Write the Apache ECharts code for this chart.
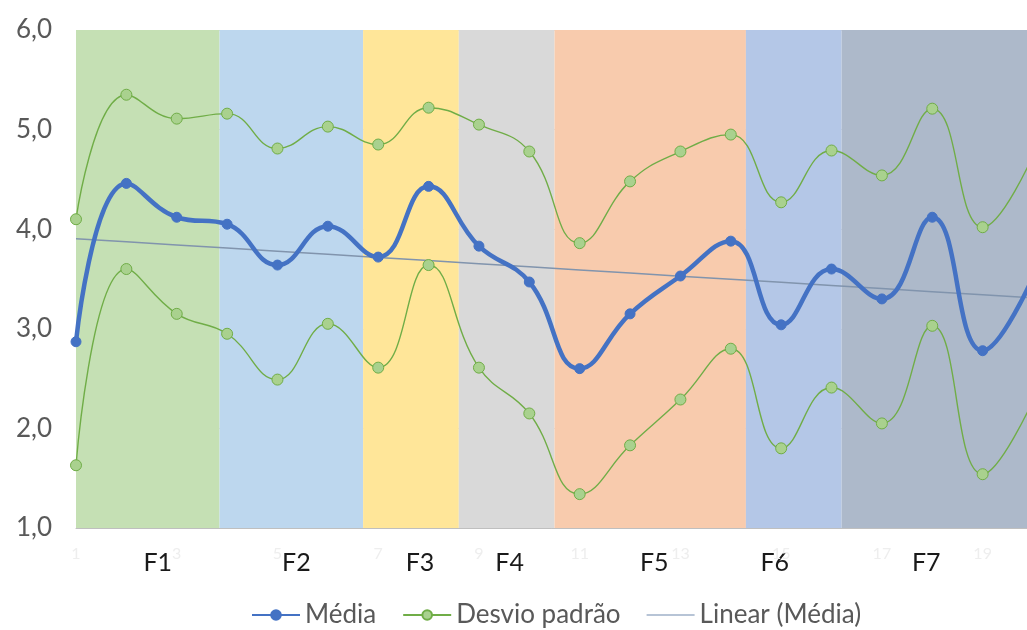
<!DOCTYPE html>
<html>
<head>
<meta charset="utf-8">
<script src="https://cdn.jsdelivr.net/npm/echarts@6/dist/echarts.min.js"></script>
<style>
  html, body { margin: 0; padding: 0; background: #ffffff; }
  #chart { width: 1027px; height: 630px; }
</style>
</head>
<body>
<div id="chart"></div>
<script>
// Periods 1..20
const periodos = ['1','2','3','4','5','6','7','8','9','10','11','12','13','14','15','16','17','18','19','20'];

// Mean per period
const media = [2.87, 4.46, 4.12, 4.05, 3.64, 4.03, 3.72, 4.43, 3.83, 3.47,
               2.60, 3.15, 3.53, 3.88, 3.04, 3.60, 3.30, 4.12, 2.78, 3.52];

// Mean + standard deviation
const desvioSuperior = [4.10, 5.35, 5.11, 5.16, 4.81, 5.03, 4.85, 5.22, 5.05, 4.78,
                        3.86, 4.48, 4.78, 4.95, 4.27, 4.79, 4.54, 5.21, 4.02, 4.74];

// Mean - standard deviation
const desvioInferior = [1.63, 3.60, 3.15, 2.95, 2.49, 3.05, 2.61, 3.64, 2.61, 2.15,
                        1.34, 1.83, 2.29, 2.80, 1.80, 2.41, 2.05, 3.03, 1.54, 2.28];

// Phases and how many periods each one covers
const fases = ['F1', 'F2', 'F3', 'F4', 'F5', 'F6', 'F7'];
const periodosPorFase = [3, 3, 2, 2, 4, 2, 4];

// Y axis ticks
const yTicks = [1, 2, 3, 4, 5, 6];

// Styling
const faseCores = ['#c5e0b4', '#bdd7ee', '#ffe699', '#d9d9d9', '#f8cbad', '#b4c7e7', '#adb9ca'];
const faseRotuloDesvio = [10, 5, 9, 3, 4, -19, -11];
const FONT = 'Lato, "Open Sans", sans-serif';

// Least-squares trend of the mean
function tendenciaLinear(vals) {
  const n = vals.length;
  let sx = 0, sy = 0, sxy = 0, sxx = 0;
  vals.forEach((v, i) => { sx += i; sy += v; sxy += i * v; sxx += i * i; });
  const b = (n * sxy - sx * sy) / (n * sxx - sx * sx);
  const a = (sy - b * sx) / n;
  return vals.map((_, i) => +(a + b * i).toFixed(4));
}
const tendencia = tendenciaLinear(media);

// Phase bands as [start, end, index] on a period-slot scale
const faseDados = [];
let acc = 0;
periodosPorFase.forEach((w, i) => { faseDados.push([acc, acc + w, i]); acc += w; });
const totalSlots = acc;

const chart = echarts.init(document.getElementById('chart'), null, { renderer: 'canvas' });

const option = {
  animation: false,
  backgroundColor: '#ffffff',
  textStyle: { fontFamily: FONT },
  // plot runs a little past the right edge of the canvas
  grid: { left: 76, top: 30, width: 957, height: 498, containLabel: false, outerBoundsMode: 'none' },
  xAxis: [
    {
      type: 'category',
      data: periodos,
      boundaryGap: false,
      axisLine: { show: true, lineStyle: { color: '#bfbfbf', width: 1 } },
      axisTick: { show: false },
      axisLabel: { interval: 1, color: '#eeeeee', fontSize: 16, margin: 18, fontFamily: FONT },
      splitLine: { show: false },
      z: 5
    },
    {
      type: 'value',
      min: 0,
      max: totalSlots,
      show: false
    }
  ],
  yAxis: {
    type: 'value',
    min: yTicks[0],
    max: yTicks[yTicks.length - 1],
    interval: 1,
    axisLine: { show: false },
    axisTick: { show: false },
    axisLabel: {
      color: '#595959',
      fontSize: 26,
      margin: 24,
      fontFamily: FONT,
      formatter: v => v.toFixed(1).replace('.', ',')
    },
    splitLine: { show: true, lineStyle: { color: '#d9d9d9', width: 1 } }
  },
  legend: {
    data: [
      { name: 'Média' },
      { name: 'Desvio padrão' },
      { name: 'Linear (Média)', icon: 'path://M0,0 L48,0 L48,1.6 L0,1.6 Z' }
    ],
    left: 251,
    top: 602,
    padding: 0,
    itemWidth: 48,
    itemHeight: 12,
    itemGap: 26,
    textStyle: { color: '#595959', fontSize: 26, fontFamily: FONT }
  },
  series: [
    {
      name: 'Fases',
      type: 'custom',
      xAxisIndex: 1,
      yAxisIndex: 0,
      z: 1,
      silent: true,
      clip: false,
      data: faseDados,
      renderItem: function (params, api) {
        const x0 = api.value(0), x1 = api.value(1), idx = api.value(2);
        const pTop = api.coord([x0, yTicks[yTicks.length - 1]]);
        const pBot = api.coord([x1, yTicks[0]]);
        return {
          type: 'group',
          children: [
            {
              type: 'rect',
              shape: { x: pTop[0], y: pTop[1], width: pBot[0] - pTop[0], height: pBot[1] - pTop[1] },
              style: { fill: faseCores[idx] }
            },
            {
              type: 'text',
              style: {
                text: fases[idx],
                x: (pTop[0] + pBot[0]) / 2 + faseRotuloDesvio[idx],
                y: pBot[1] + 35,
                align: 'center',
                verticalAlign: 'middle',
                fill: '#1a1a1a',
                font: '25px ' + FONT
              }
            }
          ]
        };
      }
    },
    {
      name: 'Linear (Média)',
      type: 'line',
      data: tendencia,
      symbol: 'none',
      smooth: false,
      z: 3,
      lineStyle: { color: '#8194ad', width: 1.5 },
      itemStyle: { color: '#9fb1c8' }
    },
    {
      name: 'Desvio padrão',
      type: 'line',
      data: desvioSuperior,
      smooth: 0.45,
      symbol: 'circle',
      symbolSize: 11,
      z: 4,
      lineStyle: { color: '#70ad47', width: 1.4 },
      itemStyle: { color: '#a9d18e', borderColor: '#70ad47', borderWidth: 1 }
    },
    {
      name: 'Desvio padrão',
      type: 'line',
      data: desvioInferior,
      smooth: 0.45,
      symbol: 'circle',
      symbolSize: 11,
      z: 4,
      lineStyle: { color: '#70ad47', width: 1.4 },
      itemStyle: { color: '#a9d18e', borderColor: '#70ad47', borderWidth: 1 }
    },
    {
      name: 'Média',
      type: 'line',
      data: media,
      smooth: 0.45,
      symbol: 'circle',
      symbolSize: 10,
      z: 5,
      lineStyle: { color: '#4472c4', width: 4.5 },
      itemStyle: { color: '#4472c4', borderColor: '#4472c4', borderWidth: 1 }
    }
  ]
};

chart.setOption(option);
</script>
</body>
</html>
